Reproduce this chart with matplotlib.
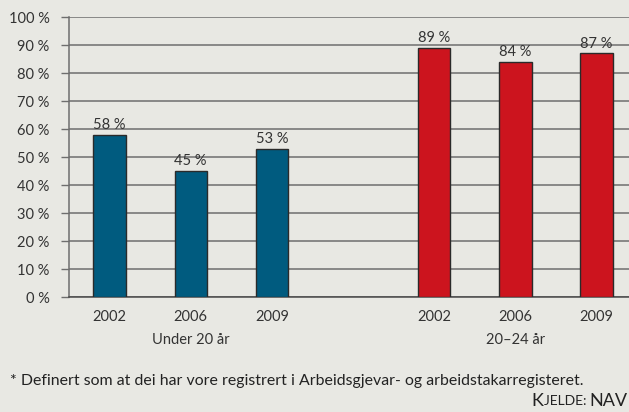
import matplotlib.pyplot as plt

years = ['2002', '2006', '2009', '2002', '2006', '2009']
values = [58, 45, 53, 89, 84, 87]
positions = [0, 1, 2, 4, 5, 6]
groups = ['Under 20 år', '20–24 år']
group_pos = [1, 5]
colors = ['#005b7f'] * 3 + ['#cc141e'] * 3
yticks = list(range(0, 101, 10))

bg = '#e8e8e3'
plt.rcParams['font.family'] = ['Lato', 'DejaVu Sans']

fig = plt.figure(figsize=(6.29, 4.12), dpi=100, facecolor=bg)
ax = fig.add_axes([0.1097, 0.279, 0.8903, 0.6797], facecolor=bg)

ax.bar(positions, values, width=0.4, color=colors, edgecolor='#2a2a2a', linewidth=1, zorder=3)
for x, v in zip(positions, values):
    ax.text(x, v + 1.0, f'{v} %', ha='center', va='bottom', fontsize=10.5, color='#333333')

ax.set_xlim(-0.5, 6.4)
ax.set_ylim(0, 100)
ax.set_yticks(yticks)
ax.set_yticklabels([f'{t} %' for t in yticks], fontsize=10.5, color='#333333')
ax.yaxis.grid(True, color='#6e6e6e', linewidth=1.1)
ax.set_axisbelow(True)
ax.tick_params(axis='y', length=6, width=1, color='#6e6e6e', pad=8)
ax.set_xticks(positions)
ax.set_xticklabels(years, fontsize=10.5, color='#333333')
ax.tick_params(axis='x', length=0, pad=9)

for s in ['top', 'right']:
    ax.spines[s].set_visible(False)
ax.spines['left'].set_color('#6e6e6e')
ax.spines['left'].set_linewidth(1.1)
ax.spines['bottom'].set_color('#4a4a4a')
ax.spines['bottom'].set_linewidth(1.1)

for gx, g in zip(group_pos, groups):
    ax.annotate(g, xy=(gx, 0), xycoords=('data', 'axes fraction'), xytext=(0, -31),
                textcoords='offset points', ha='center', va='center', fontsize=10.5, color='#333333')

fig.text(10 / 629, 1 - 381 / 412, '* Definert som at dei har vore registrert i Arbeidsgjevar- og arbeidstakarregisteret.',
         ha='left', va='center', fontsize=11.4, color='#222222')
src = fig.text(0.998, 1 - 401 / 412, 'NAV', ha='right', va='center', fontsize=13, color='#222222')
fig.canvas.draw()
bb = src.get_window_extent()
t2 = fig.text(bb.x0 / fig.bbox.width, 1 - 401 / 412, 'JELDE: ', ha='right', va='center', fontsize=10, color='#222222')
fig.canvas.draw()
bb2 = t2.get_window_extent()
fig.text(bb2.x0 / fig.bbox.width, 1 - 401 / 412, 'K', ha='right', va='center', fontsize=13, color='#222222')

fig.savefig('out.png', dpi=100, facecolor=bg)
